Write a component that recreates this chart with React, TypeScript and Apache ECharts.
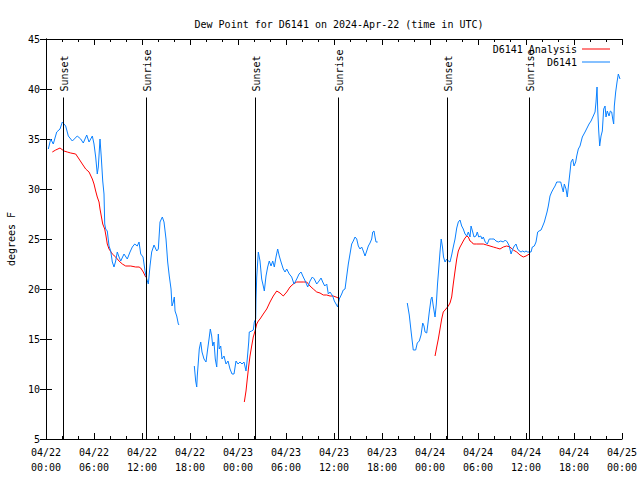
import { useEffect, useRef } from 'react';
import * as echarts from 'echarts';

const FONT = '"DejaVu Sans Mono", "Liberation Mono", monospace';

const chartTitle = 'Dew Point for D6141 on 2024-Apr-22 (time in UTC)';
const yAxisName = 'degrees F';
const analysisName = 'D6141 Analysis';
const stationName = 'D6141';

// x values are hours since 2024-04-22 00:00 UTC
const dateLabels = [
  '04/22\n00:00', '04/22\n06:00', '04/22\n12:00', '04/22\n18:00',
  '04/23\n00:00', '04/23\n06:00', '04/23\n12:00', '04/23\n18:00',
  '04/24\n00:00', '04/24\n06:00', '04/24\n12:00', '04/24\n18:00',
  '04/25\n00:00',
];

const sunEventHours = [2.16, 12.54, 26.16, 36.54, 50.16, 60.41];
const sunEventNames = ['Sunset', 'Sunrise', 'Sunset', 'Sunrise', 'Sunset', 'Sunrise'];
const sunLineTop = 39.15;

const stationSeg1: [number, number][] = [
  [0.29, 34.0], [0.59, 35.0], [0.91, 34.5], [1.34, 35.7], [1.75, 36.0], [2.04, 36.7],
  [2.46, 36.3], [2.79, 35.3], [3.29, 34.8], [3.91, 35.3], [4.34, 35.0], [4.66, 34.6],
  [5.09, 35.4], [5.38, 34.7], [5.79, 35.3], [6.0, 34.5], [6.21, 33.2], [6.41, 31.5],
  [6.54, 32.2], [6.75, 35.0], [6.91, 33.2], [7.09, 30.8], [7.25, 29.5], [7.34, 26.5],
  [7.46, 26.0], [7.66, 25.8], [7.88, 24.3], [8.09, 23.8], [8.29, 22.7], [8.5, 22.2],
  [8.71, 22.8], [8.91, 23.7], [9.13, 23.2], [9.34, 22.8], [9.75, 23.5], [10.16, 23.0],
  [10.5, 23.7], [10.79, 24.2], [11.09, 24.5], [11.41, 24.3], [11.63, 24.7], [11.84, 23.5],
  [12.13, 23.2], [12.38, 21.8], [12.59, 21.0], [12.79, 20.5], [13.0, 22.3], [13.21, 23.7],
  [13.5, 24.4], [13.84, 23.8], [14.04, 24.0], [14.25, 26.7], [14.54, 27.2], [14.75, 26.7],
  [15.0, 25.0], [15.21, 22.7], [15.41, 21.3], [15.63, 20.0], [15.75, 18.3], [15.91, 18.7],
  [16.04, 19.2], [16.13, 17.8], [16.34, 17.3], [16.54, 16.5], [16.63, 16.4],
];

const stationSeg2: [number, number][] = [
  [18.54, 12.3], [18.71, 10.8], [18.84, 10.2], [18.91, 11.3], [19.04, 12.7], [19.16, 14.0],
  [19.34, 14.7], [19.5, 13.7], [19.75, 13.0], [20.0, 12.7], [20.21, 14.0], [20.38, 15.0],
  [20.54, 16.0], [20.71, 15.3], [20.84, 14.3], [21.0, 14.7], [21.16, 13.0], [21.34, 12.2],
  [21.54, 15.5], [21.66, 14.0], [21.84, 14.3], [22.0, 13.0], [22.25, 13.3], [22.5, 12.5],
  [22.75, 12.8], [23.0, 12.0], [23.25, 11.5], [23.5, 11.5], [23.75, 12.8], [24.0, 12.5],
  [24.25, 12.7], [24.5, 12.5], [24.75, 12.7], [25.0, 11.8], [25.16, 13.0], [25.34, 14.7],
  [25.41, 15.7], [25.71, 15.8], [25.91, 15.9], [26.04, 16.7], [26.21, 17.0], [26.25, 19.0],
  [26.34, 21.2], [26.54, 23.7], [26.75, 22.8], [26.96, 21.0], [27.16, 20.3], [27.29, 19.8],
  [27.5, 21.3], [27.71, 22.2], [27.91, 22.8], [28.13, 22.3], [28.34, 22.8], [28.54, 22.2],
  [28.75, 23.2], [28.96, 24.0], [29.16, 23.3], [29.38, 22.7], [29.66, 22.0], [29.88, 21.7],
  [30.09, 22.0], [30.41, 21.5], [30.71, 21.2], [31.0, 20.5], [31.34, 21.0], [31.63, 21.5],
  [31.88, 21.7], [32.16, 21.2], [32.46, 20.7], [32.71, 20.2], [33.0, 20.8], [33.29, 21.2],
  [33.54, 21.0], [33.84, 20.5], [34.13, 20.8], [34.38, 21.1], [34.59, 20.7], [34.84, 20.3],
  [35.09, 20.5], [35.29, 19.5], [35.5, 19.7], [35.84, 19.3], [36.04, 18.8], [36.25, 18.5],
  [36.46, 18.2], [36.66, 19.0], [36.96, 19.5], [37.16, 19.9], [37.38, 20.0], [37.59, 21.3],
  [37.79, 22.5], [38.0, 23.5], [38.21, 24.5], [38.41, 24.8], [38.63, 25.2], [38.84, 25.0],
  [39.04, 24.3], [39.25, 24.0], [39.46, 24.2], [39.66, 23.8], [39.88, 23.3], [40.09, 23.8],
  [40.29, 24.3], [40.5, 24.6], [40.71, 25.0], [40.84, 25.7], [41.0, 25.8], [41.13, 25.2],
  [41.25, 24.7], [41.46, 24.7],
];

const stationSeg3: [number, number][] = [
  [45.16, 18.6], [45.41, 17.4], [45.66, 15.6], [45.91, 13.9], [46.21, 13.9], [46.41, 14.6],
  [46.66, 14.8], [46.88, 15.4], [47.09, 16.6], [47.25, 16.3], [47.38, 15.7], [47.59, 15.6],
  [47.75, 16.6], [47.91, 17.7], [48.13, 19.0], [48.25, 19.2], [48.41, 18.3], [48.63, 17.2],
  [48.79, 18.5], [48.94, 20.5], [49.09, 22.0], [49.25, 23.7], [49.4, 25.0], [49.56, 24.2],
  [49.69, 23.2], [49.88, 22.7], [50.09, 23.0], [50.29, 22.8], [50.5, 22.7], [50.71, 23.4],
  [50.91, 24.2], [51.13, 25.0], [51.34, 26.1], [51.54, 26.7], [51.75, 26.9], [51.96, 26.3],
  [52.16, 26.0], [52.38, 25.5], [52.59, 25.3], [52.79, 25.7], [53.0, 25.2], [53.13, 26.3],
  [53.34, 25.7], [53.5, 25.2], [53.75, 25.3], [53.91, 25.7], [54.09, 25.2], [54.34, 25.3],
  [54.5, 25.0], [54.66, 25.2], [54.91, 24.7], [55.16, 24.5], [55.41, 25.0], [55.71, 25.0],
  [56.0, 25.0], [56.25, 24.8], [56.54, 24.7], [56.84, 24.8], [57.16, 24.7], [57.41, 24.9],
  [57.66, 24.7], [57.91, 24.3], [58.13, 23.5], [58.34, 24.0], [58.54, 24.3], [58.75, 24.5],
  [58.96, 24.0], [59.16, 23.8], [59.38, 23.7], [59.59, 23.8], [59.79, 23.7], [60.0, 23.8],
  [60.21, 23.7], [60.41, 23.7], [60.63, 23.7], [60.79, 24.2], [61.04, 24.3], [61.25, 24.7],
  [61.46, 25.7], [61.63, 25.8], [61.88, 25.9], [62.09, 26.3], [62.29, 26.7], [62.46, 27.2],
  [62.63, 27.7], [62.79, 28.3], [63.0, 29.3], [63.21, 29.7], [63.41, 30.0], [63.63, 30.3],
  [63.84, 30.7], [64.04, 30.7], [64.34, 30.7], [64.46, 30.3], [64.66, 29.7], [64.79, 30.5],
  [65.0, 30.0], [65.16, 29.2], [65.29, 30.2], [65.5, 31.7], [65.63, 32.7], [65.84, 33.0],
  [66.0, 32.3], [66.21, 32.7], [66.34, 33.3], [66.54, 34.0], [66.75, 34.3], [67.04, 35.2],
  [67.38, 35.7], [67.63, 36.1], [67.88, 36.5], [68.13, 36.8], [68.41, 37.3], [68.63, 37.7],
  [68.75, 38.7], [68.88, 40.2], [68.96, 38.0], [69.09, 35.8], [69.21, 34.3], [69.38, 35.3],
  [69.54, 35.8], [69.71, 38.0], [69.88, 38.3], [70.0, 37.2], [70.16, 37.8], [70.38, 37.3],
  [70.54, 37.8], [70.71, 37.7], [70.84, 37.0], [70.96, 36.5], [71.04, 38.3], [71.21, 39.7],
  [71.38, 40.7], [71.54, 41.5], [71.75, 41.0],
];

const analysisSeg1: [number, number][] = [
  [0.79, 33.7], [1.21, 33.9], [1.75, 34.1], [2.25, 33.8], [2.66, 33.7], [3.09, 33.6],
  [3.71, 33.5], [4.13, 33.0], [4.54, 32.5], [4.96, 32.0], [5.38, 31.7], [5.79, 31.0],
  [6.0, 30.5], [6.21, 29.8], [6.41, 29.2], [6.63, 28.7], [6.75, 28.0], [6.91, 27.3],
  [7.09, 26.5], [7.34, 26.0], [7.5, 25.3], [7.66, 24.5], [7.88, 24.0], [8.29, 23.5],
  [8.71, 23.2], [9.13, 22.8], [9.54, 22.5], [9.96, 22.3], [10.59, 22.3], [11.21, 22.2],
  [11.63, 22.2], [11.84, 22.1], [12.16, 21.7], [12.46, 21.2], [12.59, 21.1],
];

const analysisSeg2: [number, number][] = [
  [24.79, 8.7], [25.0, 9.8], [25.16, 11.0], [25.34, 12.3], [25.5, 13.3], [25.71, 14.3],
  [25.91, 15.2], [26.13, 15.8], [26.34, 16.5], [26.54, 16.8], [26.75, 17.0], [27.16, 17.5],
  [27.59, 18.0], [28.0, 18.7], [28.41, 19.3], [28.84, 19.8], [29.25, 19.6], [29.66, 19.3],
  [30.09, 19.7], [30.5, 20.2], [30.91, 20.5], [31.34, 20.7], [31.75, 20.7], [32.16, 20.7],
  [32.59, 20.7], [33.0, 20.3], [33.41, 20.0], [33.84, 19.7], [34.25, 19.6], [34.66, 19.4],
  [35.09, 19.4], [35.5, 19.3], [35.91, 19.3], [36.25, 19.2], [36.54, 19.1],
];

const analysisSeg3: [number, number][] = [
  [48.63, 13.3], [48.84, 14.2], [49.04, 15.0], [49.25, 16.0], [49.46, 17.0], [49.66, 17.7],
  [49.88, 17.9], [50.09, 18.1], [50.29, 18.3], [50.5, 18.6], [50.71, 19.2], [50.91, 20.5],
  [51.13, 21.8], [51.34, 23.0], [51.54, 23.8], [51.75, 24.2], [51.96, 24.5], [52.16, 24.8],
  [52.38, 25.1], [52.59, 25.3], [52.79, 25.2], [53.0, 24.8], [53.21, 24.7], [53.41, 24.5],
  [53.84, 24.5], [54.25, 24.5], [54.66, 24.5], [55.09, 24.4], [55.5, 24.3], [55.91, 24.2],
  [56.34, 24.1], [56.75, 24.0], [57.16, 24.2], [57.59, 24.3], [58.0, 24.2], [58.41, 23.9],
  [58.84, 23.7], [59.25, 23.4], [59.66, 23.2], [60.0, 23.3], [60.41, 23.5],
];

function joinSegments(segs: [number, number][][]) {
  const out: any[] = [];
  segs.forEach((s, i) => {
    if (i > 0) {
      const prev = segs[i - 1];
      out.push([(prev[prev.length - 1][0] + s[0][0]) / 2, null]);
    }
    s.forEach((p) => out.push(p));
  });
  return out;
}

const textBase = { fontFamily: FONT, fontSize: 10, color: '#000' };

export default function App() {
  const ref = useRef<HTMLDivElement>(null);
  useEffect(() => {
    if (!ref.current) return;
    const chart = echarts.init(ref.current, undefined, { renderer: 'svg' });
    const xCommon = {
      type: 'value',
      min: 0,
      max: 72,
      interval: 6,
      splitLine: { show: false },
      axisLine: { show: true, lineStyle: { color: '#000', width: 1 } },
      axisTick: { show: true, inside: true, length: 6, lineStyle: { color: '#000' } },
      minorTick: { show: true, splitNumber: 3, length: 3, lineStyle: { color: '#000' } },
      minorSplitLine: { show: false },
    };
    const yCommon = {
      type: 'value',
      min: 5,
      max: 45,
      interval: 5,
      splitLine: { show: false },
      axisLine: { show: true, lineStyle: { color: '#000', width: 1 } },
      axisTick: { show: true, inside: true, length: 6, lineStyle: { color: '#000' } },
    };
    chart.setOption({
      animation: false,
      backgroundColor: '#fff',
      title: {
        text: chartTitle,
        left: 334,
        top: 14,
        textAlign: 'center',
        textStyle: { ...textBase, fontWeight: 'normal' },
      },
      legend: [
        {
          data: [analysisName],
          right: 30,
          top: 44,
          padding: 0,
          orient: 'vertical',
          align: 'right',
          icon: 'rect',
          itemWidth: 28,
          itemHeight: 1,
          textStyle: { ...textBase },
          selectedMode: false,
        },
        {
          data: [stationName],
          right: 30,
          top: 57,
          padding: 0,
          orient: 'vertical',
          align: 'right',
          icon: 'rect',
          itemWidth: 28,
          itemHeight: 1,
          textStyle: { ...textBase },
          selectedMode: false,
        },
      ],
      grid: { left: 46, right: 18, top: 39, bottom: 41, containLabel: false, outerBoundsMode: 'none' },
      xAxis: [
        {
          ...xCommon,
          position: 'bottom',
          axisLabel: {
            ...textBase,
            margin: 6,
            lineHeight: 15,
            formatter: (v: number) => dateLabels[Math.round(v / 6)] ?? '',
          },
        },
        { ...xCommon, position: 'top', axisLabel: { show: false } },
      ],
      yAxis: [
        {
          ...yCommon,
          position: 'left',
          name: yAxisName,
          nameLocation: 'middle',
          nameGap: 30,
          nameRotate: 90,
          nameTextStyle: { ...textBase },
          axisLabel: { ...textBase, margin: 6 },
        },
        { ...yCommon, position: 'right', axisLabel: { show: false } },
      ],
      series: [
        {
          name: analysisName,
          type: 'line',
          data: joinSegments([analysisSeg1, analysisSeg2, analysisSeg3]),
          showSymbol: false,
          symbol: 'none',
          connectNulls: false,
          lineStyle: { color: '#ff0000', width: 1 },
          itemStyle: { color: '#ff0000' },
          z: 2,
        },
        {
          name: stationName,
          type: 'line',
          data: joinSegments([stationSeg1, stationSeg2, stationSeg3]),
          showSymbol: false,
          symbol: 'none',
          connectNulls: false,
          lineStyle: { color: '#0a80ff', width: 1 },
          itemStyle: { color: '#0a80ff' },
          z: 3,
        },
        {
          name: 'sun',
          type: 'custom',
          data: sunEventHours.map((h) => [h, sunLineTop]),
          encode: { x: 0, y: 1 },
          z: 4,
          silent: true,
          renderItem: (params: any, api: any) => {
            const h = api.value(0);
            const top = api.coord([h, sunLineTop]);
            const bot = api.coord([h, 5]);
            const x = Math.round(top[0]) + 0.5;
            return {
              type: 'group',
              children: [
                {
                  type: 'line',
                  shape: { x1: x, y1: top[1], x2: x, y2: bot[1] },
                  style: { stroke: '#000', lineWidth: 1 },
                },
                {
                  type: 'text',
                  x: x + 0.5,
                  y: top[1] - 6,
                  rotation: Math.PI / 2,
                  style: {
                    text: sunEventNames[params.dataIndex],
                    align: 'left',
                    verticalAlign: 'middle',
                    fill: '#000',
                    fontFamily: FONT,
                    fontSize: 10,
                  },
                },
              ],
            };
          },
        },
      ],
    });
    return () => chart.dispose();
  }, []);
  return (
    <div
      ref={ref}
      style={{ position: 'fixed', left: 0, top: 0, width: 640, height: 480, background: '#fff' }}
    />
  );
}
